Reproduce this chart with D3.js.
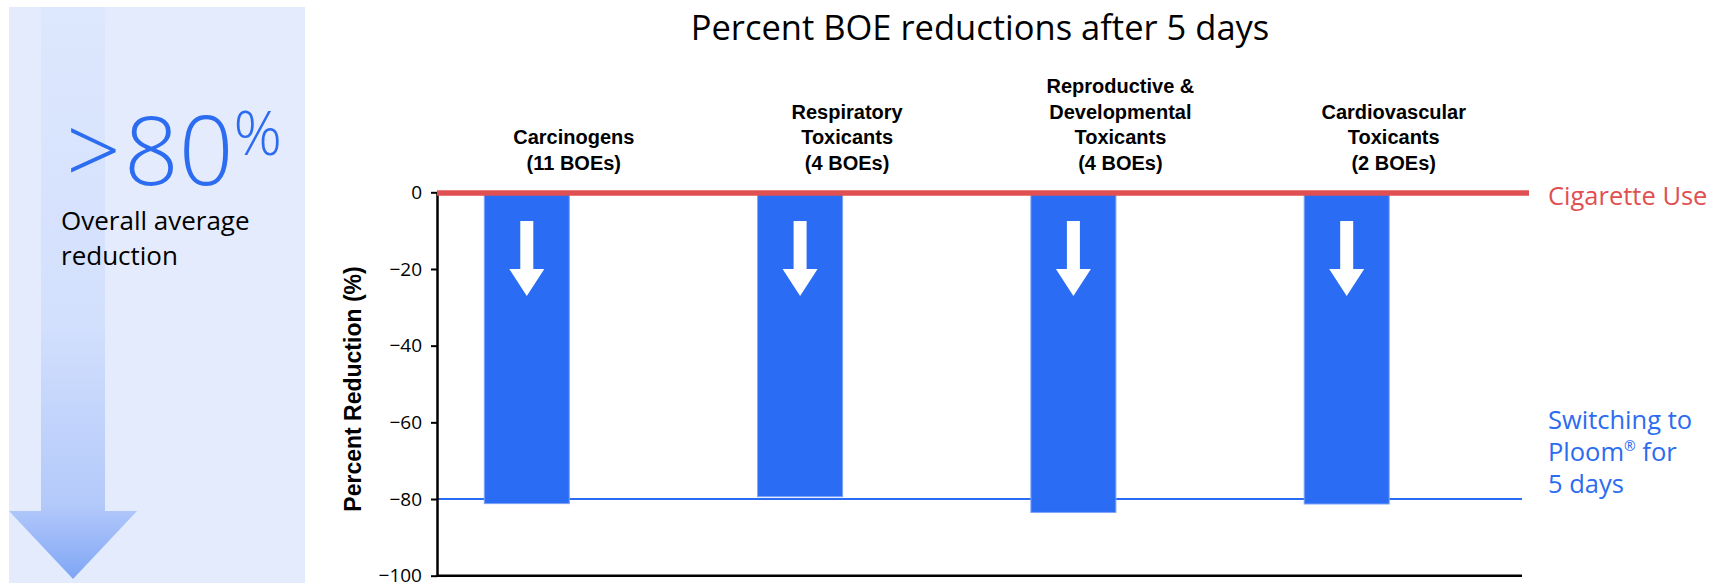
<!DOCTYPE html>
<html>
<head>
<meta charset="utf-8">
<script src="https://cdn.jsdelivr.net/npm/d3@7"></script>
<style>
  body { margin: 0; background: #fff; }
  svg { display: block; }
</style>
</head>
<body>
<svg id="chart"></svg>
<script>
// Chart data
var categoryLines = [
    ["Carcinogens", "(11 BOEs)"],
    ["Respiratory", "Toxicants", "(4 BOEs)"],
    ["Reproductive &", "Developmental", "Toxicants", "(4 BOEs)"],
    ["Cardiovascular", "Toxicants", "(2 BOEs)"]
];
var categories = ["Carcinogens", "Respiratory", "Reproductive", "Cardiovascular"];
var reductions = [-81.2, -79.4, -83.5, -81.3];
var yTicks = [0, -20, -40, -60, -80, -100];
var cigaretteLevel = 0;
var ploomLevel = -80;

var width = 1709,
    height = 583;

var svg = d3.select("#chart")
    .attr("width", width)
    .attr("height", height);

// Left panel with the big arrow
var defs = svg.append("defs");
var grad = defs.append("linearGradient")
    .attr("id", "arrowGrad")
    .attr("x1", 0).attr("y1", 0).attr("x2", 0).attr("y2", 1);
grad.append("stop").attr("offset", "0%").attr("stop-color", "#dde7fd");
grad.append("stop").attr("offset", "55%").attr("stop-color", "#d3e0fd");
grad.append("stop").attr("offset", "87%").attr("stop-color", "#b3c9fa");
grad.append("stop").attr("offset", "100%").attr("stop-color", "#7fa6f5");

svg.append("rect")
    .attr("x", 9)
    .attr("y", 7)
    .attr("width", 296)
    .attr("height", 576)
    .attr("fill", "#e4ebfc");

svg.append("path")
    .attr("d", "M41,7 L105,7 L105,511 L137,511 L73,579 L9,511 L41,511 Z")
    .attr("fill", "url(#arrowGrad)");

var big = svg.append("text")
    .attr("y", 185)
    .attr("fill", "#2c6cf0")
    .style("font-family", "'Segoe UI', 'Open Sans', sans-serif")
    .style("font-weight", 300);
big.append("tspan").attr("x", 66).style("font-size", "96px").text(">");
big.append("tspan").attr("x", 124).style("font-size", "96px").text("80");
big.append("tspan").style("font-size", "60px").attr("dy", -30).text("%");

svg.append("text")
    .attr("x", 61)
    .attr("y", 230)
    .style("font-family", "'Segoe UI', 'Open Sans', sans-serif")
    .style("font-size", "26px")
    .attr("fill", "#000")
    .selectAll("tspan")
    .data(["Overall average", "reduction"])
    .enter().append("tspan")
    .attr("x", 61)
    .attr("dy", function (d, i) { return i === 0 ? 0 : 35; })
    .text(function (d) { return d; });

// Scales
var y = d3.scaleLinear()
    .domain([0, -100])
    .range([192.3, 575.7]);

var x = d3.scalePoint()
    .domain(categories)
    .range([526.8, 1346.7]);

var barWidth = 85;
var labelOffset = 47;
var plotLeft = 437,
    plotRight = 1522;

// Title
svg.append("text")
    .attr("x", 980)
    .attr("y", 40)
    .attr("text-anchor", "middle")
    .style("font-family", "'Segoe UI', 'Open Sans', sans-serif")
    .style("font-size", "34.5px")
    .attr("fill", "#000")
    .text("Percent BOE reductions after 5 days");

// Switching line at -80
svg.append("line")
    .attr("x1", plotLeft).attr("x2", plotRight)
    .attr("y1", y(ploomLevel)).attr("y2", y(ploomLevel))
    .attr("stroke", "#2a6cf4")
    .attr("stroke-width", 2);

// Bars
var g = svg.selectAll(".bar")
    .data(reductions)
    .enter().append("g")
    .attr("class", "bar");

g.append("rect")
    .attr("x", function (d, i) { return x(categories[i]) - barWidth / 2; })
    .attr("y", y(0))
    .attr("width", barWidth)
    .attr("height", function (d) { return y(d) - y(0); })
    .attr("fill", "#2a6cf4")
    .attr("stroke", "#7ea3f7")
    .attr("stroke-width", 1);

// White arrows inside bars
g.append("path")
    .attr("d", function (d, i) {
        var cx = x(categories[i]);
        return "M" + (cx - 6.5) + "," + 221 +
            " L" + (cx + 6.5) + "," + 221 +
            " L" + (cx + 6.5) + "," + 269 +
            " L" + (cx + 17.5) + "," + 269 +
            " L" + cx + "," + 296 +
            " L" + (cx - 17.5) + "," + 269 +
            " L" + (cx - 6.5) + "," + 269 + " Z";
    })
    .attr("fill", "#fff");

// Category labels
g.append("text")
    .attr("text-anchor", "middle")
    .style("font-family", "'Liberation Sans', Arial, sans-serif")
    .style("font-weight", "bold")
    .style("font-size", "20px")
    .attr("fill", "#000")
    .each(function (d, i) {
        var lines = categoryLines[i];
        var cx = x(categories[i]) + labelOffset;
        var t = d3.select(this);
        lines.forEach(function (line, j) {
            t.append("tspan")
                .attr("x", cx)
                .attr("y", 169.5 - (lines.length - 1 - j) * 25.5)
                .text(line);
        });
    });

// Y axis
var yAxis = d3.axisLeft(y)
    .tickValues(yTicks)
    .tickSize(6)
    .tickSizeOuter(0)
    .tickPadding(9);

var axisG = svg.append("g")
    .attr("transform", "translate(" + plotLeft + ",0)")
    .call(yAxis);

axisG.select(".domain")
    .attr("stroke", "#000")
    .attr("stroke-width", 2.5);
axisG.selectAll(".tick line")
    .attr("stroke", "#000")
    .attr("stroke-width", 2);
axisG.selectAll(".tick text")
    .style("font-family", "'Segoe UI', 'Open Sans', sans-serif")
    .style("font-size", "19px")
    .attr("fill", "#000");

// Bottom line
svg.append("line")
    .attr("x1", plotLeft).attr("x2", plotRight)
    .attr("y1", y(-100)).attr("y2", y(-100))
    .attr("stroke", "#000")
    .attr("stroke-width", 2.5);

// Cigarette use line at 0
svg.append("line")
    .attr("x1", plotLeft).attr("x2", 1529)
    .attr("y1", y(cigaretteLevel) + 0.8).attr("y2", y(cigaretteLevel) + 0.8)
    .attr("stroke", "#e05052")
    .attr("stroke-width", 5.5);

// Y axis title
svg.append("text")
    .attr("transform", "translate(361,389) rotate(-90)")
    .attr("text-anchor", "middle")
    .style("font-family", "'Liberation Sans', Arial, sans-serif")
    .style("font-weight", "bold")
    .style("font-size", "23px")
    .attr("fill", "#000")
    .text("Percent Reduction (%)");

// Right annotations
svg.append("text")
    .attr("x", 1548)
    .attr("y", 205)
    .style("font-family", "'Segoe UI', 'Open Sans', sans-serif")
    .style("font-size", "25.5px")
    .attr("fill", "#e05052")
    .text("Cigarette Use");

var sw = svg.append("text")
    .style("font-family", "'Segoe UI', 'Open Sans', sans-serif")
    .style("font-size", "25.5px")
    .attr("fill", "#2c6cf0");
sw.append("tspan").attr("x", 1548).attr("y", 429).text("Switching to");
var l2 = sw.append("tspan").attr("x", 1548).attr("y", 461);
l2.append("tspan").text("Ploom");
l2.append("tspan").attr("dy", -10).style("font-size", "14px").text("®");
l2.append("tspan").attr("dy", 10).text(" for");
sw.append("tspan").attr("x", 1548).attr("y", 493).text("5 days");
</script>
</body>
</html>
